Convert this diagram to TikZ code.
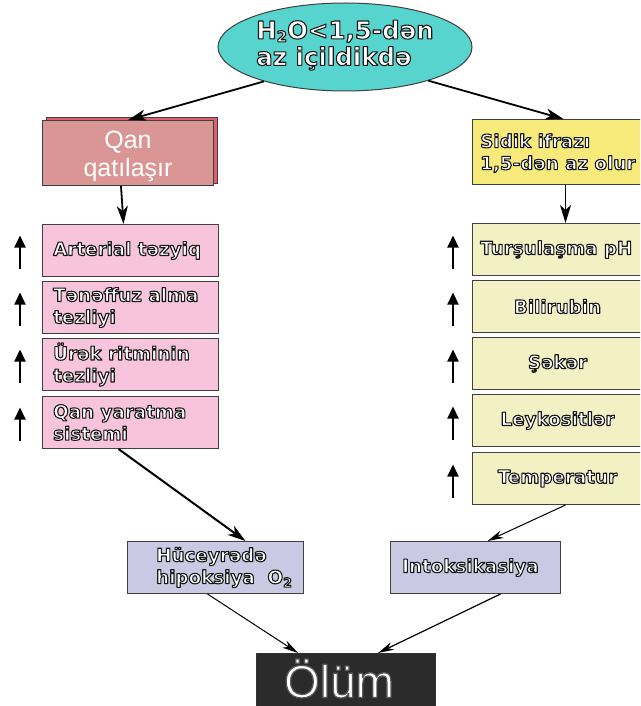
\documentclass[tikz,border=0pt]{standalone}
\usepackage{fontspec}
\setmainfont{DejaVu Sans}
\newfontfamily\arialf{Liberation Sans}
\usetikzlibrary{shapes.geometric,arrows.meta}
\definecolor{turq}{RGB}{88,212,206}
\definecolor{qanc}{RGB}{217,150,148}
\definecolor{qshc}{RGB}{222,96,112}
\definecolor{pinkc}{RGB}{248,196,220}
\definecolor{sidc}{RGB}{247,234,122}
\definecolor{palec}{RGB}{243,241,196}
\definecolor{lavc}{RGB}{202,200,226}
\definecolor{darkc}{RGB}{43,43,43}
% outlined text: white fill, dark stroke (text render mode 2)
\newcommand{\ol}[1]{\special{pdf:literal direct 0.1 0.1 0.1 RG 1.1 w 1 j 2 Tr}#1\special{pdf:literal direct 0 Tr}}
\newcommand{\olg}[1]{\special{pdf:literal direct 0.35 0.35 0.35 RG 1.2 w 1 j 2 Tr}#1\special{pdf:literal direct 0 Tr}}
\begin{document}
\begin{tikzpicture}[x=1pt,y=-1pt,
  every node/.style={inner sep=0pt},
  bx/.style={draw=black!75, line width=1pt, anchor=north west},
  pbox/.style={bx, fill=pinkc, minimum width=176pt, minimum height=52pt},
  ybox/.style={bx, fill=palec, minimum width=170pt, minimum height=52pt},
  lbox/.style={bx, fill=lavc, minimum width=176pt, minimum height=52pt},
  otxt/.style={text=white, font=\bfseries\fontsize{18.3}{22}\selectfont, align=left},
  thickarr/.style={line width=1.8pt, -{Stealth[length=18pt,width=11pt,inset=5pt]}},
  thinarr/.style={line width=1pt, -{Stealth[length=16pt,width=8pt,inset=5pt]}},
  uparr/.style={line width=2pt, -{Triangle[length=12pt,width=11pt]}},
]
\useasboundingbox (0,0) rectangle (640,706);
\clip (0,0) rectangle (640,706);
\fill[white] (0,0) rectangle (640,706);

% top ellipse
\node[ellipse, draw=black!75, line width=1pt, fill=turq, minimum width=254pt, minimum height=88pt] (top) at (345,47) {};
\node[otxt, font=\bfseries\fontsize{24.5}{26.5}\selectfont, anchor=north west] (toptext) at (256,20) {\ol{H\raisebox{-3pt}{\fontsize{15}{15}\selectfont 2}O<1,5-dən}\\\ol{az içildikdə}};

% left branch
\node[bx, fill=qshc, minimum width=171pt, minimum height=66pt] (qsh) at (46,117) {};
\node[bx, fill=qanc, minimum width=171pt, minimum height=65pt] (qan) at (42,120) {};
\node[text=white, font=\arialf\fontsize{25}{28}\selectfont, align=center] (qantext) at ([yshift=-3pt]qan.center) {Qan\\qatılaşır};

\node[pbox] (p1) at (42,224) {};
\node[pbox] (p2) at (42,281) {};
\node[pbox] (p3) at (42,338) {};
\node[pbox] (p4) at (42,396) {};
\node[otxt, anchor=west] (p1t) at ([xshift=11pt]p1.west) {\ol{Arterial təzyiq}};
\node[otxt, anchor=west] (p2t) at ([xshift=11pt]p2.west) {\ol{Tənəffuz alma}\\\ol{tezliyi}};
\node[otxt, anchor=west] (p3t) at ([xshift=11pt]p3.west) {\ol{Ürək ritminin}\\\ol{tezliyi}};
\node[otxt, anchor=west] (p4t) at ([xshift=11pt]p4.west) {\ol{Qan yaratma}\\\ol{sistemi}};

% right branch
\node[bx, fill=sidc, minimum width=170pt, minimum height=65pt] (sid) at (472,119) {};
\node[otxt, anchor=west] (sidt) at ([xshift=8pt,yshift=-1pt]sid.west) {\ol{Sidik ifrazı}\\\ol{1,5-dən az olur}};

\node[ybox] (r1) at (472,223) {};
\node[ybox] (r2) at (472,280) {};
\node[ybox] (r3) at (472,337) {};
\node[ybox] (r4) at (472,394) {};
\node[ybox] (r5) at (472,452) {};
\node[otxt, anchor=west] (r1t) at ([xshift=8pt]r1.west) {\ol{Turşulaşma pH}};
\node[otxt] (r2t) at (r2.center) {\ol{Bilirubin}};
\node[otxt] (r3t) at (r3.center) {\ol{Şəkər}};
\node[otxt] (r4t) at (r4.center) {\ol{Leykositlər}};
\node[otxt] (r5t) at (r5.center) {\ol{Temperatur}};

% bottom
\node[lbox] (hip) at (127,541) {};
\node[otxt, anchor=west] (hipt) at ([xshift=29pt]hip.west) {\ol{Hüceyrədə}\\\ol{hipoksiya\ \ O\textsubscript{2}}};
\node[lbox, minimum width=170pt] (intox) at (390,541) {};
\node[otxt, anchor=west] (intoxt) at ([xshift=12pt]intox.west) {\ol{Intoksikasiya}};

\node[bx, fill=darkc, draw=black!80, minimum width=179pt, minimum height=54pt] (olum) at (256,653) {};
\node[text=white, font=\arialf\fontsize{46}{48}\selectfont] (olumt) at ([xshift=-7pt,yshift=2pt]olum.center) {\olg{Ölüm}};

% connectors
\draw[thickarr] (top.203) -- (qan.north);
\draw[thickarr] (top.338) -- ([xshift=6pt]sid.north);
\draw[thickarr] ([xshift=-7pt]qan.south) -- ([xshift=-7pt]p1.north);
\draw[thickarr] ([xshift=8pt]sid.south) -- ([xshift=8pt]r1.north);

\foreach \b in {p1,p2,p3,p4}
  \draw[uparr] ([shift={(-22pt,-18pt)}]\b.west) -- ([shift={(-22pt,15pt)}]\b.west);
\foreach \b in {r1,r2,r3,r4,r5}
  \draw[uparr] ([shift={(-19pt,-19pt)}]\b.west) -- ([shift={(-19pt,14pt)}]\b.west);

\draw[thickarr, line width=2pt] ([xshift=-12pt]p4.south) -- ([xshift=30pt]hip.north);
\draw[thinarr] ([xshift=8pt]r5.south) -- ([xshift=12pt]intox.north);
\draw[thinarr] ([xshift=-8pt]hip.south) -- ([xshift=-48pt]olum.north);
\draw[thinarr, line width=1.2pt] ([xshift=25pt]intox.south) -- ([xshift=32pt]olum.north);
\end{tikzpicture}
\end{document}
